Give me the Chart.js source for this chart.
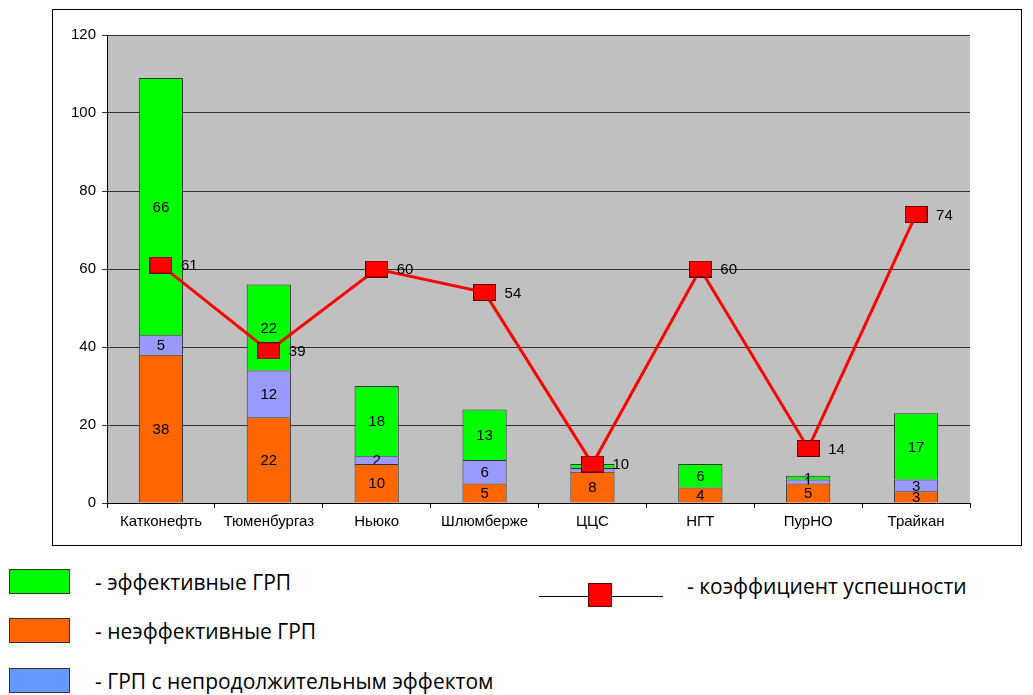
<!DOCTYPE html>
<html>
<head>
<meta charset="utf-8">
<script src="https://cdn.jsdelivr.net/npm/chart.js@4/dist/chart.umd.min.js"></script>
<style>
body{margin:0;background:#fff;width:1033px;height:695px;position:relative;overflow:hidden;font-family:"Open Sans",sans-serif;}
#box{position:absolute;left:52px;top:9px;width:968px;height:535px;border:1px solid #000;}
.sw{position:absolute;left:9px;width:59px;height:23px;border:1px solid #333;}
.lt{position:absolute;left:95px;font-size:21px;color:#000;line-height:26px;}
</style>
</head>
<body>
<div id="box"><canvas id="chart" width="968" height="535"></canvas></div>

<div class="sw" style="top:569px;background:#00ff00"></div>
<div class="lt" style="top:569px">- эффективные ГРП</div>
<div class="sw" style="top:618px;background:#ff6600"></div>
<div class="lt" style="top:618px">- неэффективные ГРП</div>
<div class="sw" style="top:668px;background:#6699ff"></div>
<div class="lt" style="top:668px">- ГРП с непродолжительным эффектом</div>

<div style="position:absolute;left:539px;top:596px;width:124px;height:1px;background:#000"></div>
<div style="position:absolute;left:588px;top:583px;width:24px;height:24px;background:#ff0000;border:1px solid #600;box-sizing:border-box"></div>
<div class="lt" style="left:687px;top:573px">- коэффициент успешности</div>

<script>
// --- data ---
const companies = ['Катконефть','Тюменбургаз','Ньюко','Шлюмберже','ЦЦС','НГТ','ПурНО','Трайкан'];
const ineffective = [38, 22, 10, 5, 8, 4, 5, 3];
const shortEffect = [5, 12, 2, 6, 1, 0, 1, 3];
const effective = [66, 22, 18, 13, 1, 6, 1, 17];
const successRate = [61, 39, 60, 54, 10, 60, 14, 74];
const yTicks = [0, 20, 40, 60, 80, 100, 120];

const FONT = '"Liberation Sans", Arial, sans-serif';

// marker: flat red rectangle like in the excel original
const marker = document.createElement('canvas');
marker.width = 23; marker.height = 17;
(() => {
  const m = marker.getContext('2d');
  m.fillStyle = '#ff0000';
  m.fillRect(0, 0, 23, 17);
  m.strokeStyle = '#600';
  m.lineWidth = 1;
  m.strokeRect(0.5, 0.5, 22, 16);
})();

// gray plot background
const plotBg = {
  id: 'plotBg',
  beforeDraw(c){
    const {ctx, chartArea:a} = c;
    ctx.save();
    ctx.fillStyle = '#c0c0c0';
    ctx.fillRect(a.left, a.top, a.right-a.left, a.bottom-a.top);
    ctx.restore();
  }
};

// value labels: bar labels right after each bar dataset (so the line covers them)
const valueLabels = {
  id: 'valueLabels',
  afterDatasetDraw(c, args){
    const ds = c.data.datasets[args.index];
    const ctx = c.ctx;
    ctx.save();
    ctx.font = '15px ' + FONT;
    ctx.fillStyle = '#000';
    args.meta.data.forEach((el, i) => {
      const v = ds.data[i];
      if (!v) return;
      if (ds.type === 'line') {
        ctx.textAlign = 'left'; ctx.textBaseline = 'middle';
        ctx.fillText(v, el.x + 20, el.y + 1);
      } else {
        ctx.textAlign = 'center'; ctx.textBaseline = 'middle';
        ctx.fillText(v, el.x, (el.y + el.base)/2 + 1);
      }
    });
    ctx.restore();
  }
};

const barCommon = {type:'bar', borderColor:'#333', borderWidth:1, barPercentage:0.41, categoryPercentage:1, stack:'grp'};

new Chart(document.getElementById('chart'), {
  data: {
    labels: companies,
    datasets: [
      {type:'line', label:'коэффициент успешности', data: successRate, stack:'line',
       borderColor:'#ff0000', borderWidth:3, pointStyle: marker, pointRadius:11, order:0},
      {...barCommon, label:'неэффективные ГРП', data: ineffective, backgroundColor:'#ff6600', order:1},
      {...barCommon, label:'ГРП с непродолжительным эффектом', data: shortEffect, backgroundColor:'#9999ff', order:1},
      {...barCommon, label:'эффективные ГРП', data: effective, backgroundColor:'#00ff00', order:1}
    ]
  },
  options: {
    responsive:false,
    animation:false,
    layout:{padding:{left:0, top:25, right:51, bottom:0}},
    plugins:{legend:{display:false}, tooltip:{enabled:false}},
    scales:{
      x:{
        stacked:true,
        border:{color:'#000', width:1},
        grid:{drawOnChartArea:false, drawTicks:true, tickLength:5, color:'#000', offset:true},
        ticks:{color:'#000', font:{family:FONT, size:15}, padding:5, maxRotation:0},
        afterFit(s){ s.height = 42; }
      },
      y:{
        stacked:true, min:0, max:120,
        afterBuildTicks(s){ s.ticks = yTicks.map(v => ({value:v})); },
        border:{color:'#000', width:1},
        grid:{color:'#333', tickLength:5, drawTicks:true},
        ticks:{color:'#000', font:{family:FONT, size:15}, padding:6},
        afterFit(s){ s.width = 54; }
      }
    }
  },
  plugins:[plotBg, valueLabels]
});
</script>
</body>
</html>
